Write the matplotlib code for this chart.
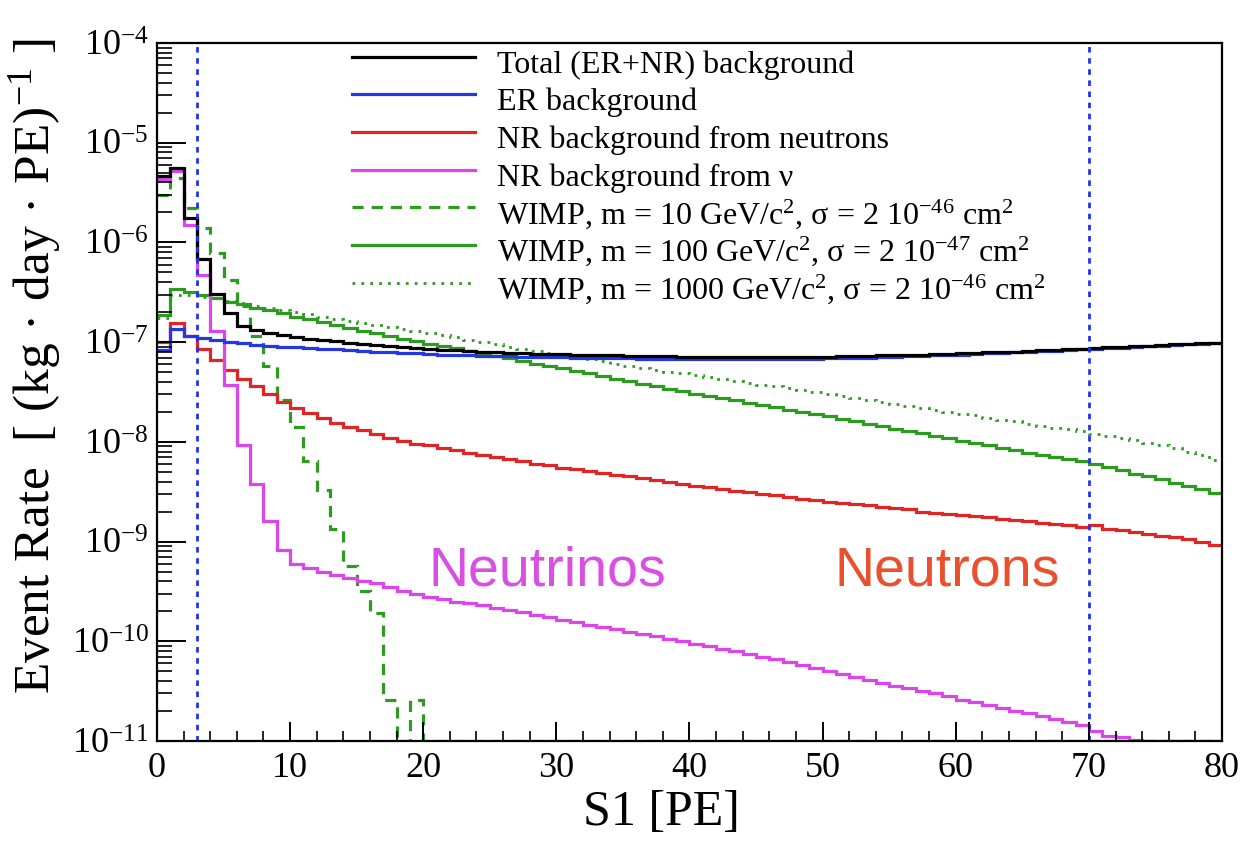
import numpy as np
import matplotlib
matplotlib.use("Agg")
import matplotlib.pyplot as plt
from matplotlib.ticker import MultipleLocator, LogLocator, NullFormatter, FixedLocator

plt.rcParams["font.family"] = ["Liberation Serif", "DejaVu Serif"]
plt.rcParams["mathtext.fontset"] = "custom"
plt.rcParams["mathtext.rm"] = "Liberation Serif"
plt.rcParams["mathtext.it"] = "Liberation Serif:italic"
plt.rcParams["mathtext.bf"] = "Liberation Serif:bold"
plt.rcParams["mathtext.default"] = "regular"
plt.rcParams["axes.unicode_minus"] = False

# S1 bins, 1 PE wide
s1_edges = np.arange(0, 81)

# event rates [(kg day PE)^-1], read bin by bin off the figure
total_bkg = [
    4.6e-6, 5.6e-6, 1.75e-6, 6.8e-7, 3.05e-7, 1.95e-7, 1.45e-7, 1.32e-7, 1.24e-7, 1.17e-7,
    1.12e-7, 1.08e-7, 1.05e-7, 1.02e-7, 9.9e-8, 9.6e-8, 9.3e-8, 9.1e-8, 8.9e-8, 8.7e-8,
    8.55e-8, 8.4e-8, 8.25e-8, 8.1e-8, 8.0e-8, 7.9e-8, 7.8e-8, 7.7e-8, 7.65e-8, 7.6e-8,
    7.55e-8, 7.5e-8, 7.45e-8, 7.4e-8, 7.35e-8, 7.3e-8, 7.25e-8, 7.2e-8, 7.2e-8, 7.15e-8,
    7.15e-8, 7.1e-8, 7.1e-8, 7.1e-8, 7.05e-8, 7.1e-8, 7.1e-8, 7.1e-8, 7.1e-8, 7.1e-8,
    7.15e-8, 7.2e-8, 7.25e-8, 7.25e-8, 7.35e-8, 7.4e-8, 7.4e-8, 7.5e-8, 7.55e-8, 7.65e-8,
    7.7e-8, 7.8e-8, 7.9e-8, 8.0e-8, 8.05e-8, 8.15e-8, 8.25e-8, 8.35e-8, 8.45e-8, 8.6e-8,
    8.75e-8, 8.85e-8, 8.95e-8, 9.1e-8, 9.25e-8, 9.35e-8, 9.5e-8, 9.65e-8, 9.75e-8, 9.9e-8]
er_bkg = [
    8.3e-8, 1.35e-7, 1.16e-7, 1.1e-7, 1.04e-7, 1.01e-7, 9.8e-8, 9.4e-8, 9.2e-8, 9.0e-8,
    8.9e-8, 8.7e-8, 8.6e-8, 8.5e-8, 8.3e-8, 8.2e-8, 8.0e-8, 7.9e-8, 7.8e-8, 7.7e-8,
    7.6e-8, 7.5e-8, 7.4e-8, 7.35e-8, 7.3e-8, 7.25e-8, 7.2e-8, 7.15e-8, 7.1e-8, 7.1e-8,
    7.05e-8, 7.0e-8, 6.95e-8, 6.95e-8, 6.9e-8, 6.9e-8, 6.85e-8, 6.85e-8, 6.8e-8, 6.8e-8,
    6.8e-8, 6.75e-8, 6.75e-8, 6.75e-8, 6.75e-8, 6.8e-8, 6.8e-8, 6.8e-8, 6.85e-8, 6.85e-8,
    6.9e-8, 6.95e-8, 7.0e-8, 7.0e-8, 7.1e-8, 7.15e-8, 7.2e-8, 7.3e-8, 7.35e-8, 7.45e-8,
    7.5e-8, 7.6e-8, 7.7e-8, 7.8e-8, 7.9e-8, 8.0e-8, 8.1e-8, 8.2e-8, 8.3e-8, 8.45e-8,
    8.6e-8, 8.7e-8, 8.8e-8, 8.95e-8, 9.1e-8, 9.2e-8, 9.35e-8, 9.5e-8, 9.6e-8, 9.8e-8]
nr_neutrons = [
    1.0e-7, 1.55e-7, 1.15e-7, 8.5e-8, 6.6e-8, 5.2e-8, 4.3e-8, 3.6e-8, 3.0e-8, 2.5e-8,
    2.2e-8, 1.95e-8, 1.75e-8, 1.55e-8, 1.4e-8, 1.3e-8, 1.2e-8, 1.1e-8, 1.02e-8, 9.6e-9,
    9.2e-9, 8.7e-9, 8.3e-9, 7.8e-9, 7.4e-9, 7.0e-9, 6.7e-9, 6.4e-9, 6.0e-9, 5.8e-9,
    5.5e-9, 5.3e-9, 5.1e-9, 4.9e-9, 4.7e-9, 4.5e-9, 4.3e-9, 4.1e-9, 3.95e-9, 3.8e-9,
    3.6e-9, 3.5e-9, 3.4e-9, 3.25e-9, 3.15e-9, 3.0e-9, 2.9e-9, 2.8e-9, 2.7e-9, 2.6e-9,
    2.5e-9, 2.45e-9, 2.4e-9, 2.3e-9, 2.2e-9, 2.15e-9, 2.1e-9, 2.0e-9, 1.95e-9, 1.9e-9,
    1.85e-9, 1.8e-9, 1.75e-9, 1.7e-9, 1.65e-9, 1.6e-9, 1.55e-9, 1.5e-9, 1.45e-9, 1.4e-9,
    1.45e-9, 1.35e-9, 1.3e-9, 1.25e-9, 1.2e-9, 1.15e-9, 1.1e-9, 1.05e-9, 1.0e-9, 0.93e-9]
nr_nu = [
    4.3e-6, 5.2e-6, 1.5e-6, 4.7e-7, 1.28e-7, 3.7e-8, 9.3e-9, 3.8e-9, 1.6e-9, 8.2e-10,
    6.0e-10, 5.4e-10, 5.0e-10, 4.6e-10, 4.3e-10, 4.0e-10, 3.8e-10, 3.5e-10, 3.2e-10, 3.0e-10,
    2.8e-10, 2.65e-10, 2.5e-10, 2.4e-10, 2.3e-10, 2.15e-10, 2.05e-10, 1.95e-10, 1.85e-10, 1.75e-10,
    1.65e-10, 1.55e-10, 1.46e-10, 1.39e-10, 1.32e-10, 1.25e-10, 1.18e-10, 1.12e-10, 1.06e-10, 1.0e-10,
    9.5e-11, 8.9e-11, 8.4e-11, 7.9e-11, 7.4e-11, 7.0e-11, 6.6e-11, 6.2e-11, 5.8e-11, 5.4e-11,
    5.0e-11, 4.7e-11, 4.4e-11, 4.1e-11, 3.85e-11, 3.6e-11, 3.4e-11, 3.2e-11, 3.0e-11, 2.8e-11,
    2.6e-11, 2.45e-11, 2.3e-11, 2.15e-11, 2.0e-11, 1.9e-11, 1.78e-11, 1.66e-11, 1.55e-11, 1.45e-11,
    1.25e-11, 1.12e-11, 1.1e-11, 1.03e-11, 0, 0, 0, 0, 0, 0]
wimp_10gev = [
    3.0e-6, 4.4e-6, 2.2e-6, 1.38e-6, 7.8e-7, 4.2e-7, 2.3e-7, 1.15e-7, 5.8e-8, 2.6e-8,
    1.4e-8, 6.4e-9, 3.3e-9, 1.35e-9, 5.7e-10, 3.2e-10, 1.9e-10, 2.6e-11, 0, 2.6e-11] + [0] * 60
wimp_100gev = [
    1.85e-7, 3.4e-7, 3.2e-7, 3.0e-7, 2.8e-7, 2.55e-7, 2.4e-7, 2.2e-7, 2.08e-7, 1.95e-7,
    1.8e-7, 1.7e-7, 1.58e-7, 1.48e-7, 1.38e-7, 1.3e-7, 1.23e-7, 1.15e-7, 1.08e-7, 1.02e-7,
    9.6e-8, 9.2e-8, 8.8e-8, 8.2e-8, 7.7e-8, 7.3e-8, 6.9e-8, 6.5e-8, 6.1e-8, 5.8e-8,
    5.45e-8, 5.15e-8, 4.85e-8, 4.55e-8, 4.3e-8, 4.05e-8, 3.8e-8, 3.6e-8, 3.4e-8, 3.2e-8,
    3.05e-8, 2.9e-8, 2.75e-8, 2.6e-8, 2.47e-8, 2.34e-8, 2.22e-8, 2.1e-8, 2.0e-8, 1.9e-8,
    1.8e-8, 1.7e-8, 1.6e-8, 1.52e-8, 1.44e-8, 1.36e-8, 1.29e-8, 1.22e-8, 1.15e-8, 1.09e-8,
    1.03e-8, 9.7e-9, 9.2e-9, 8.7e-9, 8.2e-9, 7.8e-9, 7.4e-9, 7.0e-9, 6.7e-9, 6.4e-9,
    6.0e-9, 5.6e-9, 5.2e-9, 4.8e-9, 4.5e-9, 4.2e-9, 3.9e-9, 3.6e-9, 3.35e-9, 3.1e-9]
wimp_1000gev = [
    1.75e-7, 3.0e-7, 2.95e-7, 2.85e-7, 2.75e-7, 2.6e-7, 2.45e-7, 2.3e-7, 2.2e-7, 2.1e-7,
    2.0e-7, 1.9e-7, 1.8e-7, 1.72e-7, 1.64e-7, 1.56e-7, 1.5e-7, 1.42e-7, 1.36e-7, 1.3e-7,
    1.24e-7, 1.18e-7, 1.12e-7, 1.06e-7, 1.0e-7, 9.5e-8, 9.0e-8, 8.6e-8, 8.2e-8, 7.8e-8,
    7.4e-8, 7.0e-8, 6.7e-8, 6.4e-8, 6.1e-8, 5.8e-8, 5.5e-8, 5.3e-8, 5.05e-8, 4.85e-8,
    4.65e-8, 4.45e-8, 4.25e-8, 4.1e-8, 3.9e-8, 3.75e-8, 3.6e-8, 3.45e-8, 3.3e-8, 3.15e-8,
    3.0e-8, 2.88e-8, 2.75e-8, 2.63e-8, 2.5e-8, 2.4e-8, 2.3e-8, 2.2e-8, 2.1e-8, 2.0e-8,
    1.92e-8, 1.84e-8, 1.75e-8, 1.67e-8, 1.6e-8, 1.52e-8, 1.45e-8, 1.39e-8, 1.33e-8, 1.27e-8,
    1.2e-8, 1.15e-8, 1.1e-8, 1.05e-8, 9.8e-9, 9.2e-9, 8.6e-9, 8.0e-9, 7.3e-9, 6.6e-9]

labels = [
    "Total (ER+NR) background",
    "ER background",
    "NR background from neutrons",
    "NR background from ν",
    "WIMP, m = 10 GeV/c$^{2}$, σ = 2 10$^{-46}$ cm$^{2}$",
    "WIMP, m = 100 GeV/c$^{2}$, σ = 2 10$^{-47}$ cm$^{2}$",
    "WIMP, m = 1000 GeV/c$^{2}$, σ = 2 10$^{-46}$ cm$^{2}$",
]
roi_limits = [3, 70]  # S1 analysis window

YMIN, YMAX = 1e-11, 1e-4
GREEN = "#2f9a22"

fig = plt.figure(figsize=(12.42, 8.41), dpi=100)
ax = fig.add_axes([0.1264, 0.1189, 0.8575, 0.8300])


def hist(vals, **kw):
    # ROOT-like outline histogram; empty bins sit on the lower frame
    v = np.clip(np.asarray(vals, dtype=float), YMIN, None)
    return ax.stairs(v, s1_edges, baseline=None, fill=False, **kw)


lw = 2.3
h_1000 = hist(wimp_1000gev, color=GREEN, lw=2.0, linestyle=(0, (1, 2.2)))
h_100 = hist(wimp_100gev, color=GREEN, lw=lw)
h_10 = hist(wimp_10gev, color=GREEN, lw=lw, linestyle=(0, (3.5, 2.5)))
h_n = hist(nr_neutrons, color="#e02525", lw=lw)
h_nu = hist(nr_nu, color="#dc44ec", lw=lw)
h_er = hist(er_bkg, color="#2537e0", lw=lw)
h_tot = hist(total_bkg, color="black", lw=lw)

for xv in roi_limits:
    ax.axvline(xv, color="#2233ee", lw=2.0, linestyle=(0, (2.0, 2.0)), zorder=1)

ax.text(20.4, 10**-9.44, "Neutrinos", color="#d84fe2", fontsize=40,
        family="Liberation Sans")
ax.text(50.9, 10**-9.44, "Neutrons", color="#e9502e", fontsize=40,
        family="Liberation Sans")

ax.set_yscale("log")
ax.set_xlim(0, 80)
ax.set_ylim(YMIN, YMAX)
ax.xaxis.set_major_locator(MultipleLocator(10))
ax.xaxis.set_minor_locator(MultipleLocator(2))
# only the decades inside the frame get a label
ax.yaxis.set_major_locator(FixedLocator(10.0 ** np.arange(-11, -3)))
ax.yaxis.set_minor_locator(LogLocator(base=10, subs=np.arange(2, 10), numticks=20))
ax.yaxis.set_minor_formatter(NullFormatter())

ax.tick_params(axis="both", which="both", direction="in", top=False, right=False)
ax.tick_params(axis="y", which="major", length=21, width=1.4, labelsize=26, pad=6)
ax.tick_params(axis="y", which="minor", length=11, width=1.2)
ax.tick_params(axis="x", which="major", length=14, width=1.4, labelsize=26, pad=8)
ax.tick_params(axis="x", which="minor", length=7, width=1.2)
for sp in ax.spines.values():
    sp.set_linewidth(1.6)

ax.set_xlabel("S1 [PE]", fontsize=36)
ax.xaxis.set_label_coords(0.474, -0.070)
ax.set_ylabel("Event Rate  [ (kg · day · PE)$^{-1}$ ]", fontsize=37)
ax.yaxis.set_label_coords(-0.088, 0.537)

ax.legend([h_tot, h_er, h_n, h_nu, h_10, h_100, h_1000], labels,
          loc="upper left", bbox_to_anchor=(0.183, 0.996), frameon=False,
          fontsize=23, handlelength=3.85, handletextpad=0.7, handleheight=1.17,
          labelspacing=0.12, borderpad=0.0, borderaxespad=0.0)

fig.savefig("out.png", dpi=100)
